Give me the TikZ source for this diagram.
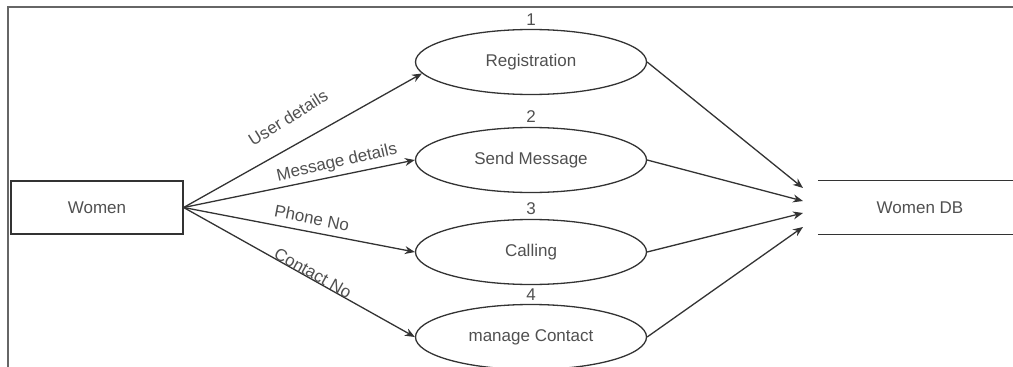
\documentclass[tikz,border=0pt]{standalone}
\usepackage{fontspec}
\setmainfont{Liberation Sans}
\usetikzlibrary{shapes.geometric,arrows.meta}
\definecolor{txt}{HTML}{505050}
\definecolor{ln}{HTML}{333333}
\definecolor{frm}{HTML}{666666}
\tikzset{
  proc/.style={ellipse,draw=ln,line width=1.3pt,minimum width=231pt,minimum height=65pt,inner sep=0pt,text=txt,font=\fontsize{17}{20}\selectfont},
  num/.style={text=txt,font=\fontsize{17}{20}\selectfont,inner sep=0pt},
  lbl/.style={text=txt,font=\fontsize{17}{20}\selectfont,inner sep=0pt},
  flow/.style={draw=ln,line width=1.3pt,-{Stealth[length=10pt,width=8pt]}},
  entity/.style={rectangle,draw=ln,line width=1.3pt,minimum width=172pt,minimum height=53pt,inner sep=0pt,text=txt,font=\fontsize{17}{20}\selectfont}
}
\begin{document}
\begin{tikzpicture}[x=1pt,y=-1pt]
\useasboundingbox (0,0) rectangle (1013,367);
% frame
\draw[frm,line width=2.4pt] (8,367) -- (8,7) -- (1013,7);
% entity
\node[entity] (women) at (97,207.5) {Women};
% processes
\node[proc] (reg) at (531,62) {Registration};
\node[proc] (msg) at (531,160) {Send Message};
\node[proc] (call) at (531,252) {Calling};
\node[proc] (cont) at (531,337) {manage Contact};
\node[num] (n1) at (531,20) {1};
\node[num] (n2) at (531,117) {2};
\node[num] (n3) at (531,209) {3};
\node[num] (n4) at (531,295) {4};
% data store
\node[text=txt,font=\fontsize{17}{20}\selectfont,minimum width=195pt,minimum height=53pt,inner sep=0pt] (db) at (915.5,207.5) {\hspace*{9pt}Women DB};
\draw[ln,line width=1.3pt] (db.north west) -- (db.north east);
\draw[ln,line width=1.3pt] (db.south west) -- (db.south east);
\coordinate (d1) at (803,188);
\coordinate (d2) at (803,201);
\coordinate (d3) at (803,213);
\coordinate (d4) at (803,227);
% flows
\draw[flow] (women.east) -- (reg.186);
\draw[flow] (women.east) -- (msg.west);
\draw[flow] (women.east) -- (call.west);
\draw[flow] (women.east) -- (cont.west);
\draw[flow] (reg.east) -- (d1);
\draw[flow] (msg.east) -- (d2);
\draw[flow] (call.east) -- (d3);
\draw[flow] (cont.east) -- (d4);
% labels
\node[lbl,rotate=32] (l1) at (288,118) {User details};
\node[lbl,rotate=13] (l2) at (337,163) {Message details};
\node[lbl,rotate=-11] (l3) at (312,218) {Phone No};
\node[lbl,rotate=-29] (l4) at (313,273) {Contact No};
\end{tikzpicture}
\end{document}
